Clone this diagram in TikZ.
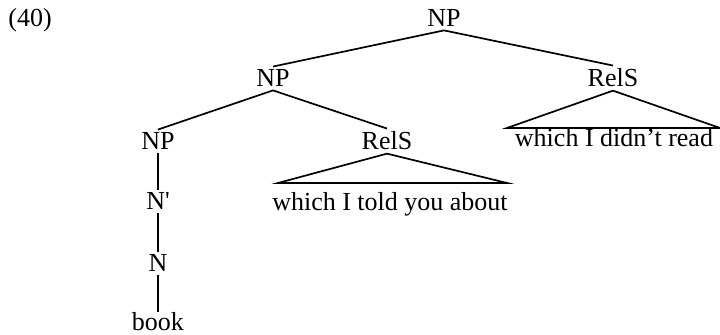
\documentclass[tikz,border=0pt]{standalone}
\usepackage{fontspec}
\setmainfont{Liberation Serif}

\begin{document}
\begin{tikzpicture}[x=0.5pt,y=0.5pt,
  cat/.style={inner sep=1.5pt,anchor=base,font=\fontsize{13}{15}\selectfont},
  branch/.style={line width=0.85pt}]

  \useasboundingbox (0,0) rectangle (720,335);

  % Example number
  \node[cat,anchor=base west,inner sep=0pt] (exnum) at (8,308) {(40)};

  % Categories
  \node[cat] (npTop) at (444,308) {NP};
  \node[cat] (npMid) at (273,248) {NP};
  \node[cat] (relsRight) at (613,248) {RelS};
  \node[cat] (npLow) at (158,185) {NP};
  \node[cat] (relsMid) at (387,185) {RelS};
  \node[cat] (nBar) at (158,125) {N\textquotesingle};
  \node[cat] (nHead) at (158,63) {N};
  \node[cat,inner ysep=0.5pt] (book) at (158,4) {book};

  % Clause texts
  \node[cat] (clauseRight) at (614,188) {which I didn’t read};
  \node[cat] (clauseMid) at (390,124) {which I told you about};

  % Branches
  \draw[branch] (npTop.south) -- (npMid.north);
  \draw[branch] (npTop.south) -- (relsRight.north);
  \draw[branch] (npMid.south) -- (npLow.north);
  \draw[branch] (npMid.south) -- (relsMid.north);
  \draw[branch] (npLow.south) -- (nBar.north);
  \draw[branch] (nBar.south) -- (nHead.north);
  \draw[branch] (nHead.south) -- (book.north);

  % Triangles
  \coordinate (baseRightW) at (507,207);
  \coordinate (baseRightE) at (720,207);
  \coordinate (baseMidW) at (278,152);
  \coordinate (baseMidE) at (507,152);
  \draw[branch] (relsRight.south) -- (baseRightW) -- (baseRightE) -- cycle;
  \draw[branch] (relsMid.south) -- (baseMidW) -- (baseMidE) -- cycle;

\end{tikzpicture}
\end{document}
